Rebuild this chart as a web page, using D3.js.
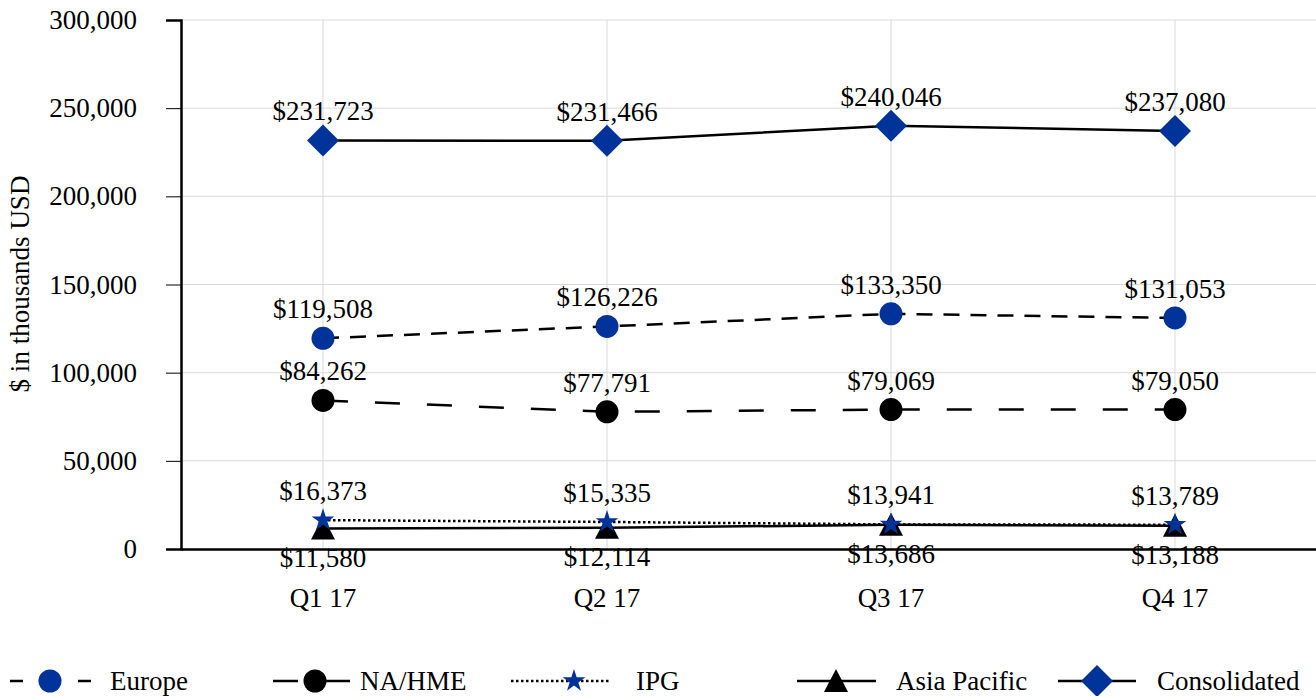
<!DOCTYPE html>
<html><head><meta charset="utf-8">
<script src="https://cdn.jsdelivr.net/npm/d3@7"></script>
<style>body{margin:0;background:#fff}svg{display:block}svg text{font-family:"Liberation Serif","Times New Roman",serif !important;fill:#000}</style>
</head><body><svg id="c" width="1316" height="696"></svg>
<script>
const categories = ["Q1 17","Q2 17","Q3 17","Q4 17"];
const yTicks = [0,50000,100000,150000,200000,250000,300000];
const seriesNames = ["Europe","NA/HME","IPG","Asia Pacific","Consolidated"];
const europe = [119508,126226,133350,131053];
const naHme = [84262,77791,79069,79050];
const ipg = [16373,15335,13941,13789];
const asiaPacific = [11580,12114,13686,13188];
const consolidated = [231723,231466,240046,237080];

(function(){
const blue = "#003399";
const series = [
  {name:seriesNames[0], values:europe, dash:"16,11", marker:"circle", color:blue, labelPos:"above"},
  {name:seriesNames[1], values:naHme, dash:"25,27", marker:"circle", color:"#000", labelPos:"above"},
  {name:seriesNames[2], values:ipg, dash:"2.5,2.5", marker:"star", color:blue, labelPos:"above"},
  {name:seriesNames[3], values:asiaPacific, dash:null, marker:"triangle", color:"#000", labelPos:"below"},
  {name:seriesNames[4], values:consolidated, dash:null, marker:"diamond", color:blue, labelPos:"above"}
];
const markerOrder = [0,1,3,2,4];

const svg = d3.select("#c");
const pl=181, pr=1317, pt=20, pb=549;
const x = d3.scaleBand().domain(categories).range([pl,pr]);
const xc = d => x(d)+x.bandwidth()/2;
const y = d3.scaleLinear().domain([0,300000]).range([pb,pt]);

svg.append("g").selectAll("line").data(yTicks.filter(t=>t>0)).join("line")
  .attr("x1",pl).attr("x2",pr).attr("y1",d=>y(d)).attr("y2",d=>y(d))
  .attr("stroke","#d9d9d9").attr("stroke-width",1);
svg.append("g").selectAll("line").data(categories).join("line")
  .attr("x1",d=>xc(d)).attr("x2",d=>xc(d)).attr("y1",pt).attr("y2",pb)
  .attr("stroke","#d9d9d9").attr("stroke-width",1);

const yAxis = d3.axisLeft(y).tickValues(yTicks).tickFormat(d3.format(",")).tickSize(15).tickPadding(29);
const gy = svg.append("g").attr("transform",`translate(${pl},0)`).call(yAxis).attr("font-family",null);
gy.select(".domain").attr("stroke","#000").attr("stroke-width",2.5);
gy.selectAll(".tick line").attr("stroke","#000").attr("stroke-width",1);
gy.selectAll("text").style("font-size","27px").attr("fill","#000");

const xAxis = d3.axisBottom(x).tickSize(0).tickPadding(39);
const gx = svg.append("g").attr("transform",`translate(0,${pb})`).call(xAxis).attr("font-family",null);
gx.select(".domain").attr("stroke","#000").attr("stroke-width",2.5);
gx.selectAll("text").style("font-size","27px").attr("fill","#000");

svg.append("text").attr("transform","translate(29,284) rotate(-90)")
  .attr("text-anchor","middle").style("font-size","27px").text("$ in thousands USD");

function markerPath(type){
  if(type==="circle") return d3.symbol(d3.symbolCircle, Math.PI*11.5*11.5)();
  if(type==="diamond") return "M0,-16L16,0L0,16L-16,0Z";
  if(type==="triangle") return "M0,-12L12,11L-12,11Z";
  if(type==="star") return d3.symbol(d3.symbolStar, 160)();
}

const line = d3.line().x((d,i)=>xc(categories[i])).y(d=>y(d));
const fmt = d3.format(",");

series.forEach(s=>{
  const p = svg.append("path").datum(s.values).attr("d",line).attr("fill","none")
    .attr("stroke","#000").attr("stroke-width",2.5);
  if(s.dash) p.attr("stroke-dasharray",s.dash);
});
markerOrder.forEach(k=>{
  const s = series[k];
  svg.append("g").selectAll("path").data(s.values).join("path")
    .attr("d",markerPath(s.marker))
    .attr("transform",(d,i)=>`translate(${xc(categories[i])},${y(d)})`)
    .attr("fill",s.color);
});
series.forEach(s=>{
  svg.append("g").selectAll("text").data(s.values).join("text")
    .attr("x",(d,i)=>xc(categories[i]))
    .attr("y",d=> s.labelPos==="above" ? y(d)-20 : y(d)+38)
    .attr("text-anchor","middle").style("font-size","27px")
    .text(d=>"$"+fmt(d));
});

const legendItems = [
  {x1:10,x2:91,mx:50,tx:110},
  {x1:273,x2:353,mx:315,tx:360},
  {x1:511,x2:610,mx:574,tx:636},
  {x1:797,x2:876,mx:836,tx:896},
  {x1:1058,x2:1136,mx:1097,tx:1157}
];
const ly = 681;
series.forEach((s,i)=>{
  const L = legendItems[i];
  const g = svg.append("g");
  const ln = g.append("line").attr("x1",L.x1).attr("x2",L.x2).attr("y1",ly).attr("y2",ly)
    .attr("stroke","#000").attr("stroke-width",2.5);
  if(s.dash) ln.attr("stroke-dasharray", i===0 ? "13,55" : s.dash);
  g.append("path").attr("d",markerPath(s.marker)).attr("transform",`translate(${L.mx},${ly})`).attr("fill",s.color);
  g.append("text").attr("x",L.tx).attr("y",ly+9).style("font-size","27px").text(s.name);
});
})();
</script></body></html>
